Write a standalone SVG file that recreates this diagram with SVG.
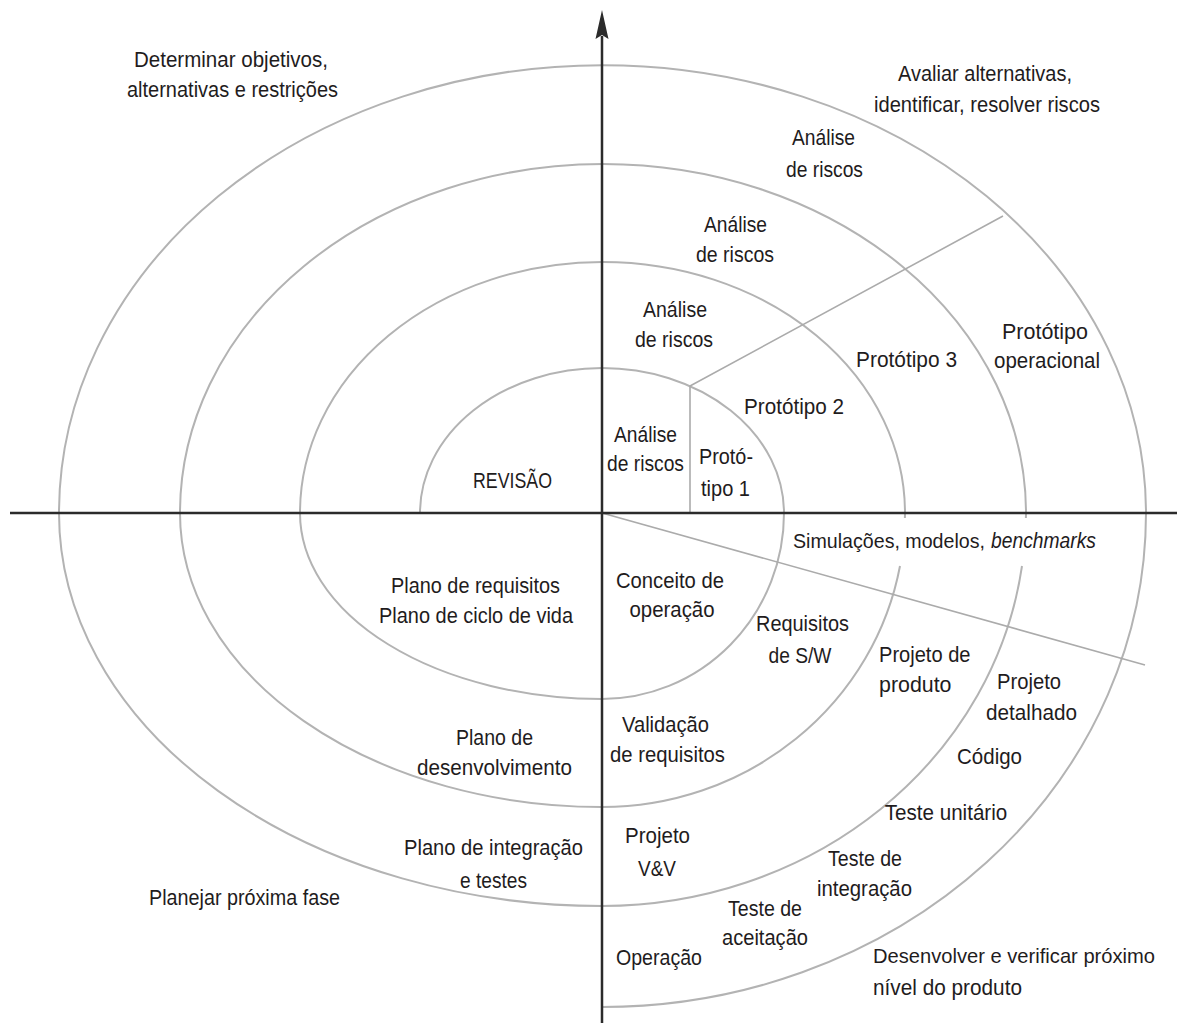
<svg xmlns="http://www.w3.org/2000/svg" width="1177" height="1023" viewBox="0 0 1177 1023">
  <style>
    .axis { stroke: #2b2b2b; stroke-width: 2.5; fill: none; }
    .turn { stroke: #b3b3b3; stroke-width: 2; fill: none; }
    .ray { stroke: #ababab; stroke-width: 1.6; fill: none; }
    text { font-family: "Liberation Sans", Arial, sans-serif; font-size: 22px; fill: #1f1c1d; }
    .m { text-anchor: middle; }
    .s { text-anchor: start; }
    .it { font-style: italic; }
    .sm { font-size: 21px; }
  </style>
  <rect width="1177" height="1023" fill="#ffffff"/>

  <!-- spiral: upper half-ellipses and lower quarter arcs -->
  <g id="spiral">
    <path class="turn" d="M420 513 A182 145 0 0 1 784 513"/>
    <path class="turn" d="M784 513 A182 186 0 0 1 602 699 A302 186 0 0 1 300 513"/>
    <path class="turn" d="M300 513 A302.5 251 0 0 1 905 513"/>
    <path class="turn" d="M905 513 A303 294 0 0 1 904.9 518"/>
    <path class="turn" d="M900 566 A303 294 0 0 1 602 807 A422 294 0 0 1 180 513"/>
    <path class="turn" d="M180 513 A423 349 0 0 1 1026 513"/>
    <path class="turn" d="M1026 513 A424 393 0 0 1 1025.9 518"/>
    <path class="turn" d="M1022 566 A424 393 0 0 1 602 906 A543 393 0 0 1 59 513"/>
    <path class="turn" d="M59 513 A543.5 448 0 0 1 1146 513"/>
    <path class="turn" d="M1146 513 A544 494 0 0 1 602 1007"/>
  </g>

  <!-- radial separators -->
  <g id="connectors">
    <path class="ray" d="M690 513 L690 386 L1003 216"/>
    <path class="ray" d="M602 513 L1145 665"/>
  </g>

  <!-- axes -->
  <g id="axes">
    <line class="axis" x1="10" y1="513" x2="1177" y2="513"/>
    <line class="axis" x1="602" y1="1023" x2="602" y2="36"/>
    <path d="M602 10 L608.5 39 L602 35 L595.5 39 Z" fill="#2b2b2b"/>
  </g>

  <!-- quadrant titles -->
  <g id="quadrant-plan-objectives">
    <text class="m" x="231" y="67" textLength="194" lengthAdjust="spacingAndGlyphs">Determinar objetivos,</text>
    <text class="m" x="232.5" y="97" textLength="211" lengthAdjust="spacingAndGlyphs">alternativas e restrições</text>
  </g>
  <g id="quadrant-risks">
    <text class="m" x="985" y="81" textLength="174" lengthAdjust="spacingAndGlyphs">Avaliar alternativas,</text>
    <text class="m" x="987" y="112" textLength="226" lengthAdjust="spacingAndGlyphs">identificar, resolver riscos</text>
  </g>
  <g id="quadrant-next-phase">
    <text class="m" x="244.5" y="905" textLength="191" lengthAdjust="spacingAndGlyphs">Planejar próxima fase</text>
  </g>
  <g id="quadrant-develop">
    <text class="s sm" x="873" y="963" textLength="282" lengthAdjust="spacingAndGlyphs">Desenvolver e verificar próximo</text>
    <text class="s" x="873" y="995" textLength="149" lengthAdjust="spacingAndGlyphs">nível do produto</text>
  </g>

  <!-- risk analysis labels -->
  <g id="risk-analysis-4">
    <text class="m" x="823.5" y="145" textLength="63" lengthAdjust="spacingAndGlyphs">Análise</text>
    <text class="m" x="824.5" y="177" textLength="77" lengthAdjust="spacingAndGlyphs">de riscos</text>
  </g>
  <g id="risk-analysis-3">
    <text class="m" x="735.5" y="232" textLength="63" lengthAdjust="spacingAndGlyphs">Análise</text>
    <text class="m" x="735" y="262" textLength="78" lengthAdjust="spacingAndGlyphs">de riscos</text>
  </g>
  <g id="risk-analysis-2">
    <text class="m" x="675" y="317" textLength="64" lengthAdjust="spacingAndGlyphs">Análise</text>
    <text class="m" x="674" y="347" textLength="78" lengthAdjust="spacingAndGlyphs">de riscos</text>
  </g>
  <g id="risk-analysis-1">
    <text class="m" x="645.5" y="442" textLength="63" lengthAdjust="spacingAndGlyphs">Análise</text>
    <text class="m" x="645.5" y="471" textLength="77" lengthAdjust="spacingAndGlyphs">de riscos</text>
  </g>

  <!-- prototypes -->
  <g id="prototype-1">
    <text class="m" x="726" y="464" textLength="54" lengthAdjust="spacingAndGlyphs">Protó-</text>
    <text class="m" x="725.5" y="496" textLength="49" lengthAdjust="spacingAndGlyphs">tipo 1</text>
  </g>
  <g id="prototype-2">
    <text class="m" x="794" y="414" textLength="100" lengthAdjust="spacingAndGlyphs">Protótipo 2</text>
  </g>
  <g id="prototype-3">
    <text class="m" x="906.5" y="367" textLength="101" lengthAdjust="spacingAndGlyphs">Protótipo 3</text>
  </g>
  <g id="prototype-operational">
    <text class="m" x="1045" y="339" textLength="86" lengthAdjust="spacingAndGlyphs">Protótipo</text>
    <text class="m" x="1047" y="368" textLength="106" lengthAdjust="spacingAndGlyphs">operacional</text>
  </g>

  <g id="review">
    <text class="m" x="512.5" y="488" textLength="79" lengthAdjust="spacingAndGlyphs">REVISÃO</text>
  </g>

  <!-- planning labels -->
  <g id="plan-requirements">
    <text class="m" x="475.5" y="593" textLength="169" lengthAdjust="spacingAndGlyphs">Plano de requisitos</text>
    <text class="m" x="476" y="623" textLength="194" lengthAdjust="spacingAndGlyphs">Plano de ciclo de vida</text>
  </g>
  <g id="plan-development">
    <text class="m" x="494.5" y="745" textLength="77" lengthAdjust="spacingAndGlyphs">Plano de</text>
    <text class="m" x="494.5" y="775" textLength="155" lengthAdjust="spacingAndGlyphs">desenvolvimento</text>
  </g>
  <g id="plan-integration">
    <text class="m" x="493.5" y="855" textLength="179" lengthAdjust="spacingAndGlyphs">Plano de integração</text>
    <text class="m" x="493.5" y="888" textLength="67" lengthAdjust="spacingAndGlyphs">e testes</text>
  </g>

  <!-- development labels -->
  <g id="simulations">
    <text class="s sm" x="793" y="548" textLength="192" lengthAdjust="spacingAndGlyphs">Simulações, modelos,</text>
    <text class="s it" x="991" y="548" textLength="105" lengthAdjust="spacingAndGlyphs">benchmarks</text>
  </g>
  <g id="concept">
    <text class="m" x="670" y="588" textLength="108" lengthAdjust="spacingAndGlyphs">Conceito de</text>
    <text class="m" x="672" y="617" textLength="85" lengthAdjust="spacingAndGlyphs">operação</text>
  </g>
  <g id="sw-requirements">
    <text class="m" x="802.5" y="631" textLength="93" lengthAdjust="spacingAndGlyphs">Requisitos</text>
    <text class="m" x="800" y="663" textLength="63" lengthAdjust="spacingAndGlyphs">de S/W</text>
  </g>
  <g id="product-design">
    <text class="s" x="879" y="662" textLength="91.5" lengthAdjust="spacingAndGlyphs">Projeto de</text>
    <text class="s" x="879" y="692" textLength="72.5" lengthAdjust="spacingAndGlyphs">produto</text>
  </g>
  <g id="detailed-design">
    <text class="m" x="1029" y="689" textLength="64" lengthAdjust="spacingAndGlyphs">Projeto</text>
    <text class="m" x="1031.5" y="720" textLength="91" lengthAdjust="spacingAndGlyphs">detalhado</text>
  </g>
  <g id="requirements-validation">
    <text class="m" x="665.5" y="732" textLength="87" lengthAdjust="spacingAndGlyphs">Validação</text>
    <text class="m" x="667.5" y="762" textLength="115" lengthAdjust="spacingAndGlyphs">de requisitos</text>
  </g>
  <g id="code">
    <text class="m" x="989.5" y="764" textLength="65" lengthAdjust="spacingAndGlyphs">Código</text>
  </g>
  <g id="unit-test">
    <text class="m" x="946" y="820" textLength="122.5" lengthAdjust="spacingAndGlyphs">Teste unitário</text>
  </g>
  <g id="vv-design">
    <text class="m" x="657.5" y="843" textLength="65" lengthAdjust="spacingAndGlyphs">Projeto</text>
    <text class="m" x="657" y="876" textLength="38" lengthAdjust="spacingAndGlyphs">V&amp;V</text>
  </g>
  <g id="integration-test">
    <text class="m" x="865" y="866" textLength="74" lengthAdjust="spacingAndGlyphs">Teste de</text>
    <text class="m" x="864.5" y="896" textLength="95" lengthAdjust="spacingAndGlyphs">integração</text>
  </g>
  <g id="acceptance-test">
    <text class="m" x="765" y="916" textLength="74" lengthAdjust="spacingAndGlyphs">Teste de</text>
    <text class="m" x="765" y="945" textLength="86" lengthAdjust="spacingAndGlyphs">aceitação</text>
  </g>
  <g id="operation">
    <text class="m" x="659" y="965" textLength="86" lengthAdjust="spacingAndGlyphs">Operação</text>
  </g>
</svg>
